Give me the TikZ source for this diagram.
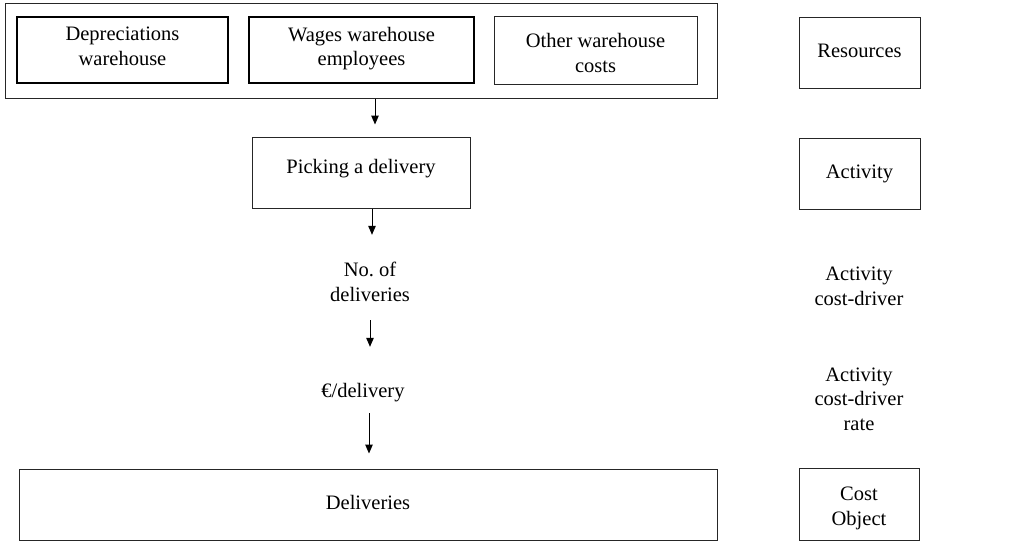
\documentclass[tikz,border=0pt]{standalone}
\usepackage{fontspec}
\setmainfont{Liberation Serif}
\usetikzlibrary{arrows.meta}
\begin{document}
\begin{tikzpicture}[x=1pt,y=-1pt,
  every node/.style={font=\fontsize{20.5}{24.5}\selectfont, align=center,
    execute at begin node={\strut}, execute at end node={\strut}},
  box/.style={draw=black!85, line width=1pt, inner sep=0pt},
  thickbox/.style={draw=black, line width=2pt, inner sep=0pt},
  lbl/.style={inner sep=0pt},
  arr/.style={draw=black, line width=1pt, -{Triangle[length=9pt,width=7.5pt]}}]
\useasboundingbox (0,0) rectangle (1021,547);
% resources group
\node[box, minimum width=712pt, minimum height=95pt] (outer) at (361,50.5) {};
\node[thickbox, minimum width=211pt, minimum height=66pt] (dep) at (122.5,50) {Depreciations\\warehouse};
\node[thickbox, minimum width=225pt, minimum height=66pt] (wages) at (361.5,50) {Wages warehouse\\employees};
\node[box, minimum width=203pt, minimum height=68pt, text height=51.65pt] (other) at (595.5,50) {Other warehouse\\costs};
% left column
\node[box, minimum width=218pt, minimum height=71pt, text depth=14.35pt] (picking) at (361,172.5) {Picking a delivery};
\node[lbl, minimum height=60pt] (nod) at (370,285.5) {No.\ of\\deliveries};
\node[lbl, minimum height=40pt] (euro) at (363,393) {€/delivery};
\node[box, minimum width=698pt, minimum height=71pt] (deliv) at (368,504.5) {Deliveries};
% right column
\node[box, minimum width=121pt, minimum height=71pt] (res) at (859.5,52.5) {Resources};
\node[box, minimum width=121pt, minimum height=71pt] (act) at (859.5,173.5) {Activity};
\node[lbl] (acd) at (859,290) {Activity\\cost-driver};
\node[lbl] (acdr) at (859,402.5) {Activity\\cost-driver\\rate};
\node[box, minimum width=120pt, minimum height=72pt, text height=49.65pt] (cobj) at (859,504) {Cost\\Object};
% arrows
\draw[arr, shorten >=12pt] ([xshift=14pt]outer.south) -- ([xshift=14pt]outer.south |- picking.north);
\draw[arr, shorten >=20.5pt] ([xshift=11pt]picking.south) -- ([xshift=11pt]picking.south |- nod.north);
\draw[arr, shorten <=4.5pt, shorten >=26pt] (nod.south) -- (nod.south |- euro.north);
\draw[arr, shorten >=15pt] ([xshift=6pt]euro.south) -- ([xshift=6pt]euro.south |- deliv.north);
\end{tikzpicture}
\end{document}
